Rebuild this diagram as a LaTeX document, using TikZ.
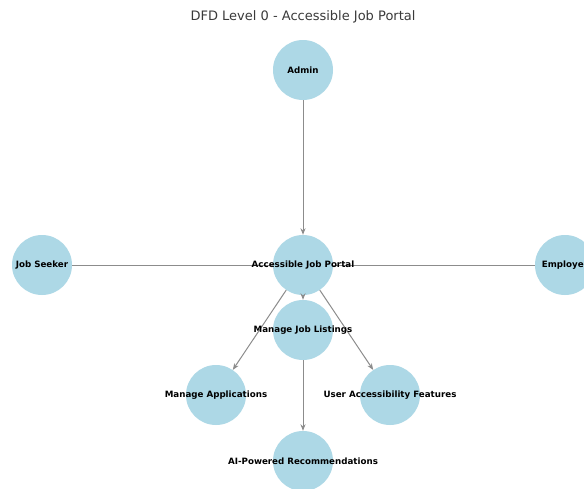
\documentclass[tikz,border=0pt]{standalone}
\usepackage{fontspec}
\setmainfont{DejaVu Sans}
\usetikzlibrary{arrows.meta}
\definecolor{nodeblue}{HTML}{ADD8E6}
\definecolor{edgegray}{HTML}{8C8C8C}
\definecolor{titlegray}{HTML}{3A3A3A}
\tikzset{
  bubble/.style={circle, fill=nodeblue, draw=none, minimum size=60pt, inner sep=0pt},
  lbl/.style={font=\bfseries\fontsize{8.7}{10}\selectfont, text=black, inner sep=0pt},
  flow/.style={draw=edgegray, line width=1pt, -{Stealth[length=6.5pt,width=5pt]}},
  link/.style={draw=edgegray, line width=1pt}
}
\begin{document}
\begin{tikzpicture}[x=1pt,y=-1pt]
\useasboundingbox (0,0) rectangle (584,488);
\clip (0,0) rectangle (584,488);
\fill[white] (0,0) rectangle (584,488);
% title
\node[text=titlegray, font=\fontsize{13}{15}\selectfont] (title) at (303,17) {DFD Level 0 - Accessible Job Portal};
% processes and external entities
\node[bubble] (admin) at (303,70) {};
\node[bubble] (portal) at (303,265) {};
\node[bubble] (seeker) at (42,265) {};
\node[bubble] (employer) at (565,265) {};
\node[bubble] (listings) at (303,330) {};
\node[bubble] (apps) at (216,395) {};
\node[bubble] (access) at (390,395) {};
\node[bubble] (ai) at (303,461) {};
% data flows
\draw[flow] (admin) -- (portal);
\draw[link] (seeker) -- (portal);
\draw[link] (employer) -- (portal);
\draw[flow] (portal) -- (listings);
\draw[flow] (portal) -- (apps);
\draw[flow] (portal) -- (access);
\draw[flow] (listings) -- (ai);
% labels
\node[lbl] at (admin) {Admin};
\node[lbl] at (portal) {Accessible Job Portal};
\node[lbl] at (seeker) {Job Seeker};
\node[lbl] at (employer) {Employer};
\node[lbl] at (listings) {Manage Job Listings};
\node[lbl] at (apps) {Manage Applications};
\node[lbl] at (access) {User Accessibility Features};
\node[lbl] at (ai) {AI-Powered Recommendations};
\end{tikzpicture}
\end{document}
